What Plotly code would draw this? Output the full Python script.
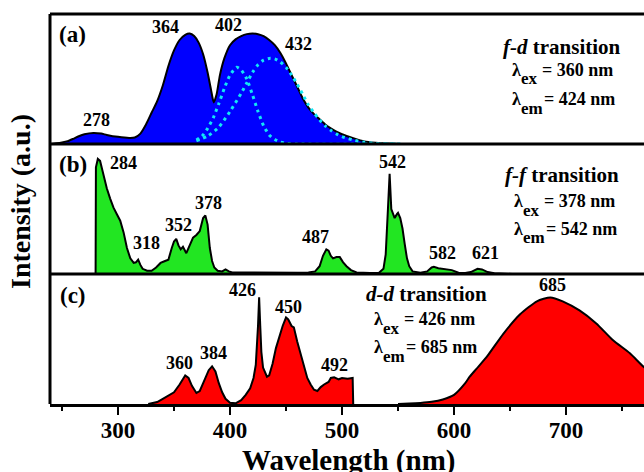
import plotly.graph_objects as go
from plotly.subplots import make_subplots

FONT = "Liberation Serif, Times New Roman, serif"

# ---------------- (a) f-d excitation spectrum ----------------
a_wl = [240, 245, 250, 255, 260, 265, 270, 278, 285, 290, 300, 310, 315, 320, 325, 330,
        335, 340, 345, 350, 355, 360, 364, 368, 372, 376, 380, 383, 385.5, 388, 391,
        395, 400, 405, 410, 415, 420, 425, 430, 435, 440, 445, 450, 455, 460, 465, 470,
        475, 480, 485, 490, 495, 500, 510, 520, 530, 540, 552]
a_int = [0, 0.005, 0.012, 0.022, 0.04, 0.06, 0.075, 0.085, 0.08, 0.07, 0.055, 0.047,
         0.05, 0.08, 0.15, 0.24, 0.33, 0.45, 0.6, 0.72, 0.8, 0.84, 0.85, 0.83, 0.78,
         0.69, 0.55, 0.42, 0.32, 0.38, 0.53, 0.66, 0.76, 0.805, 0.83, 0.845, 0.85, 0.845,
         0.83, 0.8, 0.76, 0.7, 0.62, 0.53, 0.44, 0.35, 0.28, 0.23, 0.19, 0.15, 0.12,
         0.095, 0.075, 0.045, 0.02, 0.01, 0.004, 0]
fit1_wl = [370, 375, 380, 385, 390, 395, 400, 406, 410, 415, 420, 425, 430, 435, 440,
           445, 450, 460, 552]
fit1_int = [0.03, 0.06, 0.12, 0.2, 0.31, 0.43, 0.53, 0.59, 0.57, 0.5, 0.38, 0.25, 0.14,
            0.07, 0.035, 0.015, 0.005, 0, 0]
fit2_wl = [370, 380, 390, 400, 410, 415, 420, 425, 430, 436, 440, 445, 450, 455, 460,
           465, 470, 475, 480, 485, 490, 495, 500, 510, 520, 530, 540, 552]
fit2_int = [0.025, 0.06, 0.13, 0.25, 0.39, 0.47, 0.55, 0.61, 0.645, 0.66, 0.655, 0.63,
            0.59, 0.53, 0.46, 0.38, 0.3, 0.24, 0.185, 0.14, 0.105, 0.078, 0.057, 0.03,
            0.013, 0.005, 0.002, 0]

# ---------------- (b) f-f spectra ----------------
b_wl = [280, 280.3, 282, 284, 286, 288, 290, 293, 296, 299, 302, 305, 308, 311, 314,
        316, 318, 320, 322, 326, 330, 334, 338, 342, 345, 348, 350, 352, 354, 356, 358,
        361, 364, 367, 370, 373, 376, 378, 380, 382, 384, 386, 389, 393, 396, 399, 402,
        420, 440, 460, 470, 476, 480, 483, 486, 488, 490, 492, 495, 498, 501, 504, 508,
        513, 525, 533, 537, 539, 541, 542.5, 544, 545, 547, 549, 550, 552, 554, 556,
        558, 560, 563, 570, 576, 580, 582, 586, 592, 598, 604, 610, 615, 618, 621, 625,
        630, 636, 645, 652]
b_int = [0, 0.82, 0.885, 0.87, 0.8, 0.72, 0.66, 0.58, 0.51, 0.46, 0.41, 0.32, 0.2, 0.12,
         0.085, 0.09, 0.11, 0.07, 0.04, 0.025, 0.025, 0.05, 0.085, 0.1, 0.11, 0.2, 0.25,
         0.27, 0.22, 0.19, 0.21, 0.16, 0.22, 0.28, 0.3, 0.33, 0.43, 0.45, 0.38, 0.2, 0.1,
         0.05, 0.025, 0.02, 0.035, 0.02, 0.012, 0.01, 0.012, 0.01, 0.012, 0.02, 0.06,
         0.14, 0.19, 0.18, 0.14, 0.12, 0.13, 0.13, 0.09, 0.06, 0.03, 0.012, 0.008, 0.01,
         0.04, 0.15, 0.5, 0.77, 0.5, 0.48, 0.43, 0.46, 0.47, 0.43, 0.35, 0.23, 0.12, 0.06,
         0.02, 0.01, 0.02, 0.05, 0.055, 0.045, 0.04, 0.03, 0.01, 0.008, 0.015, 0.03, 0.04,
         0.035, 0.015, 0.005, 0.003, 0]

# ---------------- (c) d-d spectra ----------------
c1_wl = [327, 335, 340, 345, 350, 355, 360, 363, 366, 370, 373, 377, 381, 384, 387,
         390, 393, 396, 400, 405, 410, 414, 418, 421, 423, 425, 426, 427, 428, 429.5,
         431, 433, 435, 438, 441, 444, 447, 450, 452, 455, 457, 460, 463, 466, 469, 472,
         475, 478, 481, 484, 488, 490, 493, 497, 500, 505, 509.5, 510]
c1_int = [0, 0.015, 0.04, 0.065, 0.09, 0.15, 0.22, 0.2, 0.14, 0.085, 0.1, 0.18, 0.26,
          0.29, 0.25, 0.16, 0.09, 0.04, 0.01, 0.005, 0.03, 0.07, 0.12, 0.2, 0.3, 0.6,
          0.82, 0.6, 0.4, 0.28, 0.25, 0.21, 0.22, 0.31, 0.43, 0.52, 0.6, 0.665, 0.65,
          0.6, 0.59, 0.48, 0.38, 0.28, 0.2, 0.15, 0.11, 0.1, 0.13, 0.15, 0.17, 0.2,
          0.205, 0.19, 0.2, 0.195, 0.2, 0]
c2_wl = [550, 560, 570, 580, 590, 600, 610, 614, 620, 629, 644, 659, 674, 686, 697,
         712, 727, 742, 757, 770, 780]
c2_int = [0, 0.003, 0.008, 0.017, 0.035, 0.07, 0.16, 0.21, 0.27, 0.36, 0.54, 0.69, 0.79,
          0.82, 0.79, 0.72, 0.62, 0.49, 0.39, 0.28, 0.22]

tick_vals = [300, 400, 500, 600, 700]
tick_text = ["300", "400", "500", "600", "700"]

X_RANGE = [239.3, 769.6]
W, H = 644, 472
ML, MR, MT, MB = 50, 0, 14, 68
PW, PH = W - ML - MR, H - MT - MB

fig = make_subplots(rows=3, cols=1, shared_xaxes=True, vertical_spacing=0)

fig.add_trace(go.Scatter(x=a_wl, y=a_int, mode="lines", fill="tozeroy", fillcolor="#0000ff",
                         line=dict(color="black", width=2, shape="spline", smoothing=0.6)),
              row=1, col=1)
for wl, it in [(fit1_wl, fit1_int), (fit2_wl, fit2_int)]:
    fig.add_trace(go.Scatter(x=wl, y=it, mode="lines",
                             line=dict(color="#12e6f5", width=3, dash="3px,4px",
                                       shape="spline", smoothing=0.6)),
                  row=1, col=1)
fig.add_trace(go.Scatter(x=b_wl, y=b_int, mode="lines", fill="tozeroy", fillcolor="#22e622",
                         line=dict(color="black", width=2)), row=2, col=1)
fig.add_trace(go.Scatter(x=c1_wl, y=c1_int, mode="lines", fill="tozeroy", fillcolor="#ff0000",
                         line=dict(color="black", width=2)), row=3, col=1)
fig.add_trace(go.Scatter(x=c2_wl, y=c2_int, mode="lines", fill="tozeroy", fillcolor="#ff0000",
                         line=dict(color="black", width=2, shape="spline", smoothing=0.6)),
              row=3, col=1)

for r in (1, 2, 3):
    fig.update_yaxes(range=[0, 1], showticklabels=False, showgrid=False, zeroline=False,
                     ticks="", showline=False, row=r, col=1)
    fig.update_xaxes(range=X_RANGE, showgrid=False, zeroline=False, row=r, col=1,
                     showticklabels=False, ticks="")

fig.update_xaxes(row=3, col=1, showticklabels=True, ticks="outside", ticklen=8, tickwidth=2,
                 tickcolor="black", showline=True, linewidth=3, linecolor="black",
                 tickvals=tick_vals, ticktext=tick_text, ticklabelstandoff=-5,
                 tickfont=dict(family=FONT, size=23, color="black", weight="bold"),
                 minor=dict(tickvals=[250, 350, 450, 550, 650, 750], ticks="outside",
                            ticklen=4, tickwidth=2, tickcolor="black"))

shapes = []
for yy in (1, 2 / 3, 1 / 3):
    shapes.append(dict(type="line", xref="paper", yref="paper", x0=0, x1=1, y0=yy, y1=yy,
                       line=dict(color="black", width=3)))
shapes.append(dict(type="line", xref="paper", yref="paper", x0=0, x1=0, y0=0, y1=1,
                   line=dict(color="black", width=3)))


def P(px, py):
    return (px - ML) / PW, (H - MB - py) / PH


annos = []


def txt(px, py, text, size, xanchor="center", angle=0):
    x, y = P(px, py)
    annos.append(dict(x=x, y=y, xref="paper", yref="paper", text=text, showarrow=False,
                      xanchor=xanchor, yanchor="middle", textangle=angle,
                      font=dict(family=FONT, size=size, color="black")))


def lam(px, py, sub, rest, size=18):
    # lambda with a large, low subscript, then "= ... nm"
    txt(px, py, "<b>λ</b>", size, xanchor="left")
    txt(px + 9, py + 9, "<b>" + sub + "</b>", size - 1, xanchor="left")
    txt(px + 32 if sub == "em" else px + 30, py, "<b>" + rest + "</b>", size, xanchor="left")


# panel labels
txt(72.5, 34, "<b>(a)</b>", 23)
txt(72.5, 165, "<b>(b)</b>", 23)
txt(72.5, 295, "<b>(c)</b>", 23)

# peak labels
peaks = [(96, 120, "278"), (165, 27, "364"), (228, 25, "402"), (298, 44, "432"),
         (123, 163, "284"), (146, 243, "318"), (178, 225, "352"), (208, 203, "378"),
         (315, 237, "487"), (392, 162, "542"), (442, 253, "582"), (485, 253, "621"),
         (179, 363, "360"), (213, 353, "384"), (242, 290, "426"), (288, 307, "450"),
         (334, 365, "492"), (552, 285, "685")]
for px, py, t in peaks:
    txt(px, py, "<b>" + t + "</b>", 18)

# transition texts
txt(562, 47, "<b><i>f-d</i> transition</b>", 21)
lam(510, 70, "ex", "= 360 nm")
lam(510, 99, "em", "= 424 nm")
txt(562, 175, "<b><i>f-f</i> transition</b>", 21)
lam(512, 201, "ex", "= 378 nm")
lam(512, 229, "em", "= 542 nm")
txt(426, 294, "<b><i>d-d</i> transition</b>", 21)
lam(372, 319, "ex", "= 426 nm")
lam(372, 347, "em", "= 685 nm")

# axis titles
txt(21, 202, "<b>Intensity (a.u.)</b>", 28, angle=-90)
txt(348.5, 461, "<b>Wavelength (nm)</b>", 29)

fig.update_layout(width=W, height=H, margin=dict(l=ML, r=MR, t=MT, b=MB),
                  paper_bgcolor="white", plot_bgcolor="white", showlegend=False,
                  shapes=shapes, annotations=annos)

fig.write_html("out.html")
